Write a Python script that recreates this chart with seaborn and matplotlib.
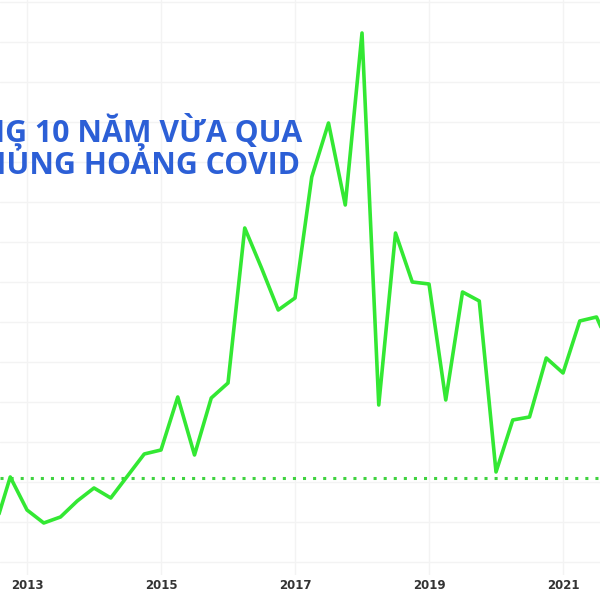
import matplotlib
matplotlib.use("Agg")
import matplotlib.pyplot as plt
import seaborn as sns
import pandas as pd

# ==================== DATA ====================

# quarterly points, as decimal years
quarters = [2012.50, 2012.75,
            2013.00, 2013.25, 2013.50, 2013.75,
            2014.00, 2014.25, 2014.50, 2014.75,
            2015.00, 2015.25, 2015.50, 2015.75,
            2016.00, 2016.25, 2016.50, 2016.75,
            2017.00, 2017.25, 2017.50, 2017.75,
            2018.00, 2018.25, 2018.50, 2018.75,
            2019.00, 2019.25, 2019.50, 2019.75,
            2020.00, 2020.25, 2020.50, 2020.75,
            2021.00, 2021.25, 2021.50, 2021.75]

values = [7.5, 21.25,
          13.0, 9.75, 11.25, 15.25,
          18.5, 16.0, 21.5, 27.0,
          28.0, 41.25, 26.75, 41.0,
          44.75, 83.5, 73.5, 63.0,
          66.0, 96.25, 109.75, 89.25,
          132.25, 39.25, 82.25, 70.0,
          69.5, 40.5, 67.5, 65.25,
          22.5, 35.5, 36.25, 51.0,
          47.25, 60.25, 61.25, 51.75]

reference_level = 21.0

year_ticks = [2013, 2015, 2017, 2019, 2021]
year_labels = ["2013", "2015", "2017", "2019", "2021"]

title_lines = ["TRONG 10 NĂM VỪA QUA", "KHỦNG HOẢNG COVID"]

# ==================== STYLE ====================

sns.set_style("white")
plt.rcParams['font.family'] = ['Noto Sans', 'DejaVu Sans']

GREEN = "#33e833"
TITLE_BLUE = "#2c5fd6"
GRID = "#f3f3f3"

df = pd.DataFrame({"quarter": quarters, "value": values})

fig = plt.figure(figsize=(6, 6), dpi=100)
ax = fig.add_axes([0, 0.0417, 1, 0.9583])

# ==================== PLOT ====================

ax.axhline(reference_level, color="#3fd23f", lw=2.2,
           linestyle=(0, (1, 2.3)), dash_capstyle="butt", zorder=2)

sns.lineplot(data=df, x="quarter", y="value", ax=ax, color=GREEN,
             lw=2.6, zorder=3)

ax.set_xlim(2012.597, 2021.552)
ax.set_ylim(-3.25, 140.5)

ax.set_xticks(year_ticks)
ax.set_xticklabels(year_labels, fontsize=8.5, color="#333333",
                   fontweight="bold",
                   family=['Liberation Sans Narrow', 'DejaVu Sans'])
ax.set_yticks(range(0, 141, 10))
ax.set_yticklabels([])
ax.tick_params(axis="both", length=0, pad=3)
ax.grid(True, color=GRID, lw=1)
ax.set_axisbelow(True)
ax.set_xlabel("")
ax.set_ylabel("")
for spine in ax.spines.values():
    spine.set_visible(False)

# title, partly cut off at the left edge as in the source image
title_font = dict(ha="right", va="center", fontsize=21.8, fontweight="bold",
                  color=TITLE_BLUE, family=['Open Sans', 'DejaVu Sans'])
fig.text(302 / 600, 1 - 132 / 600, title_lines[0], **title_font)
fig.text(300 / 600, 1 - 166 / 600, title_lines[1], **title_font)

fig.savefig("out.png", dpi=100, facecolor="white")
